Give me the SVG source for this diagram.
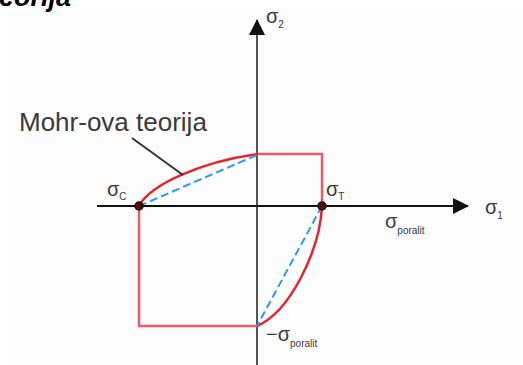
<svg xmlns="http://www.w3.org/2000/svg" width="523" height="365" viewBox="0 0 523 365">
<style>
.lbl{font-family:"Liberation Sans",Arial,sans-serif;fill:#3a3a3a}
.sig{font-size:20px}
.sub{font-size:10px}
.red{fill:none;stroke:#e2262f;stroke-width:2.5}
.rect{fill:none;stroke:#e85c68;stroke-width:2.5}
.blue{fill:none;stroke:#2a9bf0;stroke-width:2;stroke-dasharray:8 4}
.dot{fill:#5a0b0b;stroke:#111;stroke-width:1.5}
</style>
<defs>
<marker id="ah" markerWidth="16" markerHeight="16" refX="15" refY="8" orient="auto" markerUnits="userSpaceOnUse">
<path d="M0,0 L16,8 L0,16 Z" fill="#111"/>
</marker>
</defs>
<rect x="0" y="0" width="523" height="365" fill="#ffffff"/>
<rect x="8" y="10" width="515" height="355" fill="#fcfcfc"/>
<text id="title" x="-1" y="6" font-family="Liberation Sans,Arial,sans-serif" font-weight="bold" font-style="italic" font-size="27" fill="#000">eorija</text>
<g id="connectors">
<line x1="257" y1="365" x2="257" y2="20" stroke="#555" stroke-width="2" marker-end="url(#ah)"/>
<line x1="97" y1="206" x2="468" y2="206" stroke="#111" stroke-width="2" marker-end="url(#ah)"/>
<path class="rect" d="M257,154 H322 V206"/>
<path class="rect" d="M139,206 V326 H257"/>
<path class="red" d="M139,206 C150,185 200,162 258,154"/>
<path class="red" d="M322,206 C320,250 290,312 257,326"/>
<line class="blue" x1="139" y1="206" x2="257" y2="155"/>
<line class="blue" x1="322" y1="206" x2="257" y2="326"/>
<line x1="132" y1="138" x2="183" y2="175" stroke="#333" stroke-width="2"/>
</g>
<g id="mohr-label"><text class="lbl" x="19" y="131" font-size="26">Mohr-ova teorija</text></g>
<g id="sigma2"><text class="lbl" x="266" y="23"><tspan class="sig">σ</tspan><tspan class="sub" dy="5">2</tspan></text></g>
<g id="sigma1"><text class="lbl" x="485" y="214"><tspan class="sig">σ</tspan><tspan class="sub" dy="5">1</tspan></text></g>
<g id="sigmaC"><circle class="dot" cx="139" cy="206" r="4"/><text class="lbl" x="107" y="196"><tspan class="sig">σ</tspan><tspan class="sub" dy="4">C</tspan></text></g>
<g id="sigmaT"><circle class="dot" cx="322" cy="206" r="4"/><text class="lbl" x="326" y="196"><tspan class="sig">σ</tspan><tspan class="sub" dy="4">T</tspan></text></g>
<g id="sigma-poralit"><text class="lbl" x="385" y="228"><tspan class="sig">σ</tspan><tspan class="sub" dy="6">poralit</tspan></text></g>
<g id="minus-sigma-poralit"><text class="lbl" x="266" y="341"><tspan class="sig">−σ</tspan><tspan class="sub" dy="6">poralit</tspan></text></g>
</svg>
